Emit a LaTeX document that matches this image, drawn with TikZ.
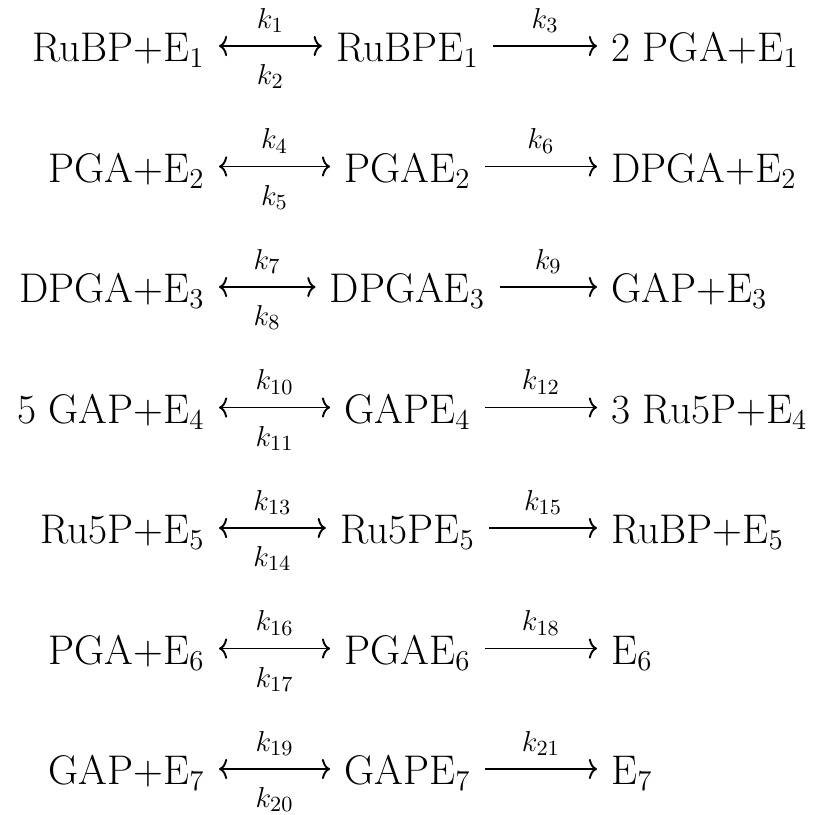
\documentclass[tikz,border=0pt]{standalone}
\usepackage{tikz}
\usetikzlibrary{arrows.meta}
\tikzset{
  spec/.style={inner xsep=5.76pt,inner ysep=0pt,text height=13.1pt,text depth=0pt,
               font=\LARGE},
  subst/.style={spec,anchor=east},
  cplx/.style={spec,anchor=center},
  prod/.style={spec,anchor=west},
  bind/.style={<->,>={Computer Modern Rightarrow[length=3.4pt,width=8.4pt]},line width=0.8pt},
  cat/.style={->,>={Computer Modern Rightarrow[length=3.4pt,width=8.4pt]},line width=0.8pt},
  kup/.style={anchor=base,yshift=7.3pt,font=\fontsize{13}{15}\selectfont},
  kdn/.style={anchor=base,yshift=-16.1pt,font=\fontsize{13}{15}\selectfont},
}

\begin{document}
\begin{tikzpicture}[x=0.4167pt,y=-0.4167pt]
\useasboundingbox (0,0) rectangle (815,814);
% row 1
\node[subst] (sub1)  at (219,46)    {RuBP+E$_1$};
\node[cplx]  (cplx1) at (407.5,46)  {RuBPE$_1$};
\node[prod]  (prod1) at (597,46)    {2 PGA+E$_1$};
% row 2
\node[subst] (sub2)  at (219,166.5)   {PGA+E$_2$};
\node[cplx]  (cplx2) at (407.5,166.5) {PGAE$_2$};
\node[prod]  (prod2) at (597,166.5)   {DPGA+E$_2$};
% row 3
\node[subst] (sub3)  at (219,287)   {DPGA+E$_3$};
\node[cplx]  (cplx3) at (407.5,287) {DPGAE$_3$};
\node[prod]  (prod3) at (597,287)   {GAP+E$_3$};
% row 4
\node[subst] (sub4)  at (219,407.5)   {5 GAP+E$_4$};
\node[cplx]  (cplx4) at (407.5,407.5) {GAPE$_4$};
\node[prod]  (prod4) at (597,407.5)   {3 Ru5P+E$_4$};
% row 5
\node[subst] (sub5)  at (219,528)   {Ru5P+E$_5$};
\node[cplx]  (cplx5) at (407.5,528) {Ru5PE$_5$};
\node[prod]  (prod5) at (597,528)   {RuBP+E$_5$};
% row 6
\node[subst] (sub6)  at (219,648.5)   {PGA+E$_6$};
\node[cplx]  (cplx6) at (407.5,648.5) {PGAE$_6$};
\node[prod]  (prod6) at (597,648.5)   {E$_6$};
% row 7
\node[subst] (sub7)  at (219,769)   {GAP+E$_7$};
\node[cplx]  (cplx7) at (407.5,769) {GAPE$_7$};
\node[prod]  (prod7) at (597,769)   {E$_7$};

% arrows
\draw[bind] (sub1) -- node[kup]{$k_1$} node[kdn]{$k_2$} (cplx1);
\draw[cat] (cplx1) -- node[kup]{$k_3$} (prod1);
\draw[bind] (sub2) -- node[kup]{$k_4$} node[kdn]{$k_5$} (cplx2);
\draw[cat] (cplx2) -- node[kup]{$k_6$} (prod2);
\draw[bind] (sub3) -- node[kup]{$k_7$} node[kdn]{$k_8$} (cplx3);
\draw[cat] (cplx3) -- node[kup]{$k_9$} (prod3);
\draw[bind] (sub4) -- node[kup]{$k_{10}$} node[kdn]{$k_{11}$} (cplx4);
\draw[cat] (cplx4) -- node[kup]{$k_{12}$} (prod4);
\draw[bind] (sub5) -- node[kup]{$k_{13}$} node[kdn]{$k_{14}$} (cplx5);
\draw[cat] (cplx5) -- node[kup]{$k_{15}$} (prod5);
\draw[bind] (sub6) -- node[kup]{$k_{16}$} node[kdn]{$k_{17}$} (cplx6);
\draw[cat] (cplx6) -- node[kup]{$k_{18}$} (prod6);
\draw[bind] (sub7) -- node[kup]{$k_{19}$} node[kdn]{$k_{20}$} (cplx7);
\draw[cat] (cplx7) -- node[kup]{$k_{21}$} (prod7);
\end{tikzpicture}
\end{document}
